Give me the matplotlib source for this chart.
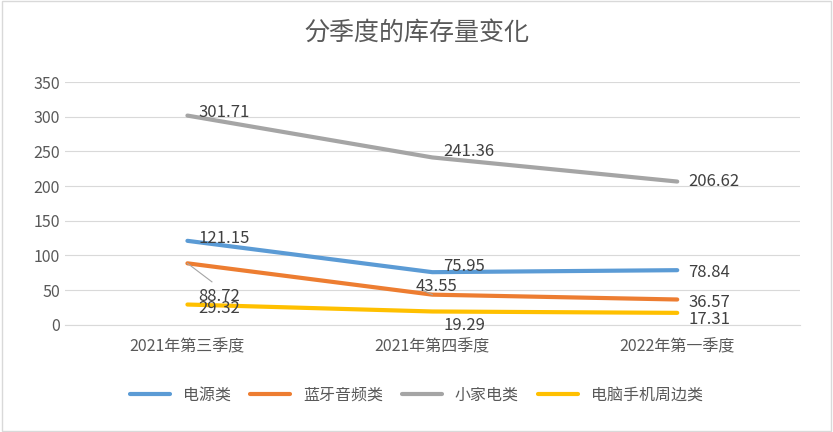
import matplotlib.pyplot as plt
import numpy as np
from matplotlib import font_manager

cjk = [f.name for f in font_manager.fontManager.ttflist if 'CJK' in f.name]
plt.rcParams['font.family'] = sorted(set(cjk)) + ['DejaVu Sans']

quarters = ['2021年第三季度', '2021年第四季度', '2022年第一季度']
names = ['电源类', '蓝牙音频类', '小家电类', '电脑手机周边类']
power = [121.15, 75.95, 78.84]
audio = [88.72, 43.55, 36.57]
appliance = [301.71, 241.36, 206.62]
pc = [29.32, 19.29, 17.31]
colors = ['#5B9BD5', '#ED7D31', '#A5A5A5', '#FFC000']

fig = plt.figure(figsize=(8.33, 4.32), dpi=100)
ax = fig.add_axes([0.078, 0.248, 0.882, 0.562])
x = np.arange(len(quarters))
series = [power, audio, appliance, pc]
for vals, name, c in zip(series, names, colors):
    ax.plot(x, vals, color=c, linewidth=3, label=name, solid_capstyle='round')

# data labels (offsets in points)
offsets = {
    0: [(8, 2), (8, 4), (8, -2)],
    1: [(8, -24), (-12, 6), (8, -2)],
    2: [(8, 2), (8, 4), (8, 0)],
    3: [(8, -3), (8, -10), (8, -5)],
}
for si, vals in enumerate(series):
    for i, v in enumerate(vals):
        dx, dy = offsets[si][i]
        ax.annotate(f'{v:.2f}', (x[i], v), xytext=(dx, dy), textcoords='offset points',
                    fontsize=12, color='#404040', va='center', ha='left')
ax.plot([0, 0.1], [audio[0], 62], color='#A5A5A5', lw=0.8)
ax.plot([1, 0.96], [audio[1], 50], color='#A5A5A5', lw=0.8)

ax.set_xlim(-0.5, 2.5)
ax.set_ylim(0, 350)
ax.set_yticks(range(0, 351, 50))
ax.set_xticks(x)
ax.set_xticklabels(quarters)
ax.tick_params(length=0, labelsize=11.5, colors='#595959')
ax.tick_params(axis='x', pad=10)
ax.grid(axis='y', color='#D9D9D9', lw=0.8)
ax.set_axisbelow(True)
for s in ['top', 'right', 'left']:
    ax.spines[s].set_visible(False)
ax.spines['bottom'].set_color('#D9D9D9')

fig.suptitle('分季度的库存量变化', y=0.955, fontsize=18, color='#595959')
fig.legend(loc='center', bbox_to_anchor=(0.5, 0.085), ncol=4, frameon=False,
           fontsize=11.5, handlelength=2.5, columnspacing=1.2, labelcolor='#595959')
fig.patches.append(plt.Rectangle((0.002, 0.002), 0.996, 0.996, transform=fig.transFigure,
                                 fill=False, edgecolor='#D9D9D9', lw=1))
fig.savefig('out.png', dpi=100)
